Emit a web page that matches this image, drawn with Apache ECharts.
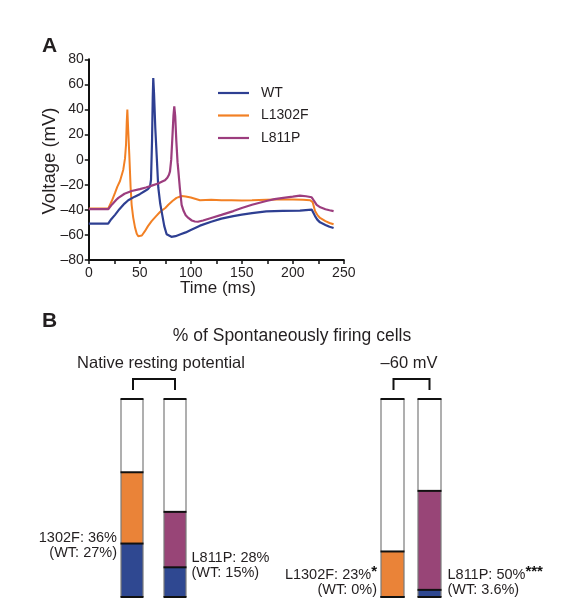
<!DOCTYPE html>
<html>
<head>
<meta charset="utf-8">
<script src="https://cdn.jsdelivr.net/npm/echarts@6/dist/echarts.min.js"></script>
<style>
html,body{margin:0;padding:0;background:#fff;}
#c{width:573px;height:616px;}
</style>
</head>
<body>
<div id="c"></div>
<script>
// ---------- Panel A data: [time (ms), voltage (mV)] ----------
const traceNames = ['WT', 'L1302F', 'L811P'];
const wtTrace = [
  [0,-51],[19,-51],[20,-50],[22,-47.5],[25.7,-44],[30,-39.5],[35,-35],[38.7,-32.4],[45,-29.5],[50,-27.5],
  [55,-25],[58,-23.5],[60,-21.5],[61,-16],[62,15],[62.7,50],[63.2,65],[64,52],[65.2,25],[66.5,4],
  [68.1,-22],[70,-35],[72,-44],[74,-53],[76.3,-59.5],[78,-61],[81,-61.5],[85,-61],[90,-59.5],[95,-58],
  [100,-56],[109,-52.6],[120,-49.5],[130,-47],[141.7,-45],[150,-43.8],[160,-42.6],[174,-41.2],[190,-40.8],
  [207,-40.6],[218.5,-39.8],[220,-41],[221.8,-45],[224,-47.8],[226.7,-50],[232,-52],[236,-53.5],[240,-54.5]
];
const l1302fTrace = [
  [0,-39],[19,-39],[20,-38],[22.5,-33],[25.7,-26.5],[28,-21.5],[30.6,-17],[33.8,-8],[35.5,1],[36.5,12],
  [37.2,30],[37.8,40],[38.6,24],[39.7,4],[41,-22],[42,-36],[43.5,-46],[45.3,-54],[47,-59],[48.5,-61],
  [50,-61.6],[52,-60.5],[55,-57],[58,-53],[61.6,-49],[66,-45],[70,-41.5],[75,-38.5],[78,-36],[82,-33],
  [86,-30.5],[91,-29],[95,-29.3],[100,-30.2],[109,-32.4],[120,-32],[130,-32.3],[140,-32.3],[150,-32.6],
  [160,-32.4],[174,-31.9],[185,-31.8],[200,-31.7],[210,-32],[217,-32.3],[219.5,-34],[221.8,-41],
  [224,-44],[226.7,-46.5],[232,-49],[236,-50.5],[240,-51.5]
];
const l811pTrace = [
  [0,-39.5],[19,-39.5],[20,-39],[23,-35.5],[27,-32],[29,-30.5],[35,-27.2],[42,-25],[50,-23.5],[56,-22.2],
  [61.7,-20.7],[68,-19],[72,-17.5],[74.7,-16.5],[77,-14.5],[78.6,-12],[79.6,-9.3],[80.8,0],[81.9,17],
  [83,35],[83.8,42.4],[84.7,35],[85.8,15],[87,-2],[87.8,-9],[89.3,-23],[91,-36],[93,-41],[95,-44.3],
  [97.6,-46.5],[101,-48.5],[104,-49.3],[107,-49.5],[112,-48.5],[120,-46.5],[130,-44],[141.7,-41],
  [150,-38.5],[160,-36],[174,-33],[182,-31.5],[190.7,-30.5],[200,-29.5],[207,-28.7],[213,-29.2],
  [218.5,-30],[220.5,-32.5],[223.4,-36],[227,-38],[232,-39.5],[236,-40.3],[240,-41]
];
const xTicks = [0, 50, 100, 150, 200, 250];
const yTicks = [-80, -60, -40, -20, 0, 20, 40, 60, 80];

// ---------- Panel B data (% of spontaneously firing cells) ----------
const panelBTitle = '% of Spontaneously firing cells';
const groupNames = ['Native resting potential', '\u201360 mV'];
const mutantNames = ['L1302F', 'L811P'];
const nativeMutPct = [36, 28];
const nativeWtPct = [27, 15];
const clampMutPct = [23, 50];
const clampWtPct = [0, 3.6];
const clampStars = ['*', '***'];
const nativeLabelNames = ['1302F', 'L811P'];
const clampLabelNames = ['L1302F', 'L811P'];

// ---------- styles ----------
const FONT = '"Liberation Sans", Arial, Helvetica, sans-serif';
const lineColors = ['#2E3F92', '#F28024', '#9C3D7E'];
const barBlue = '#2F4891';
const barMut = ['#EA8338', '#984577'];

const chart = echarts.init(document.getElementById('c'), null, {renderer: 'canvas'});

const gridA = {left: 88.8, top: 59.3, width: 255, height: 200.7};
const gridB1 = {left: 110.5, top: 399, width: 86, height: 198};
const gridB2 = {left: 374, top: 399, width: 74, height: 198};

function barRender(widthPx) {
  return function (params, api) {
    const cat = api.value(0), wt = api.value(1), mut = api.value(2);
    const ci = params.dataIndex;
    const p0 = api.coord([cat, 0]);
    const pW = api.coord([cat, wt]);
    const pM = api.coord([cat, wt + mut]);
    const pT = api.coord([cat, 100]);
    const x0 = Math.round(p0[0] - widthPx / 2);
    const x1 = x0 + widthPx;
    const children = [];
    children.push({type: 'rect', shape: {x: x0, y: pT[1], width: widthPx, height: p0[1] - pT[1]}, style: {fill: '#fff'}});
    if (mut > 0) children.push({type: 'rect', shape: {x: x0, y: pM[1], width: widthPx, height: pW[1] - pM[1]}, style: {fill: barMut[ci]}});
    if (wt > 0) children.push({type: 'rect', shape: {x: x0, y: pW[1], width: widthPx, height: p0[1] - pW[1]}, style: {fill: barBlue}});
    const side = {stroke: '#7a7a7a', lineWidth: 1.2};
    children.push({type: 'line', shape: {x1: x0, y1: pT[1], x2: x0, y2: p0[1]}, style: side});
    children.push({type: 'line', shape: {x1: x1, y1: pT[1], x2: x1, y2: p0[1]}, style: side});
    const hl = {stroke: '#111', lineWidth: 2};
    [pT[1], pM[1], pW[1], p0[1]].forEach(function (yy) {
      children.push({type: 'line', shape: {x1: x0 - 0.5, y1: yy, x2: x1 + 0.5, y2: yy}, style: hl});
    });
    return {type: 'group', children: children};
  };
}

const axisTxt = {color: '#231f20', fontFamily: FONT, fontSize: 14};
const dash = v => String(v).replace('-', '\u2013');

const option = {
  animation: false,
  backgroundColor: '#fff',
  grid: [
    Object.assign({containLabel: false}, gridA),
    Object.assign({containLabel: false}, gridB1),
    Object.assign({containLabel: false}, gridB2)
  ],
  xAxis: [
    {
      type: 'value', gridIndex: 0, min: 0, max: 250, interval: 25,
      axisLine: {onZero: false, lineStyle: {color: '#111', width: 2}},
      axisTick: {show: true, length: 4, lineStyle: {color: '#111', width: 1.5}},
      splitLine: {show: false},
      axisLabel: Object.assign({margin: 6, formatter: v => (xTicks.indexOf(v) >= 0 ? String(v) : '')}, axisTxt)
    },
    {type: 'category', gridIndex: 1, data: mutantNames, show: false},
    {type: 'category', gridIndex: 2, data: mutantNames, show: false}
  ],
  yAxis: [
    {
      type: 'value', gridIndex: 0, min: -80, max: 80, interval: 20,
      axisLine: {show: true, onZero: false, lineStyle: {color: '#111', width: 2}},
      axisTick: {show: true, length: 4, lineStyle: {color: '#111', width: 1.5}},
      splitLine: {show: false},
      axisLabel: Object.assign({margin: 5, formatter: v => (yTicks.indexOf(v) >= 0 ? dash(v) : '')}, axisTxt)
    },
    {type: 'value', gridIndex: 1, min: 0, max: 100, show: false},
    {type: 'value', gridIndex: 2, min: 0, max: 100, show: false}
  ],
  legend: {
    orient: 'vertical', left: 218, top: 86, padding: 0, itemWidth: 31, itemHeight: 2.2, itemGap: 8.5,
    icon: 'rect',
    data: traceNames,
    textStyle: {color: '#231f20', fontFamily: FONT, fontSize: 14, lineHeight: 14, padding: [0, 0, 0, 7]}
  },
  series: [
    {name: traceNames[0], type: 'line', xAxisIndex: 0, yAxisIndex: 0, data: wtTrace, symbol: 'none', smooth: false,
      lineStyle: {color: lineColors[0], width: 2.2}, itemStyle: {color: lineColors[0]}, z: 3},
    {name: traceNames[1], type: 'line', xAxisIndex: 0, yAxisIndex: 0, data: l1302fTrace, symbol: 'none',
      lineStyle: {color: lineColors[1], width: 2}, itemStyle: {color: lineColors[1]}, z: 2},
    {name: traceNames[2], type: 'line', xAxisIndex: 0, yAxisIndex: 0, data: l811pTrace, symbol: 'none',
      lineStyle: {color: lineColors[2], width: 2.2}, itemStyle: {color: lineColors[2]}, z: 4},
    {type: 'custom', xAxisIndex: 1, yAxisIndex: 1, renderItem: barRender(22),
      data: mutantNames.map((m, i) => [i, nativeWtPct[i], nativeMutPct[i]])},
    {type: 'custom', xAxisIndex: 2, yAxisIndex: 2, renderItem: barRender(23),
      data: mutantNames.map((m, i) => [i, clampWtPct[i], clampMutPct[i]])}
  ]
};
chart.setOption(option);

// ---------- annotations computed from the axes ----------
const txt = {fill: '#231f20', fontFamily: FONT};
const g = [];
g.push({type: 'text', left: 42, top: 36, style: Object.assign({text: 'A', fontSize: 21, fontWeight: 'bold'}, txt)});
g.push({type: 'text', left: 42, top: 311, style: Object.assign({text: 'B', fontSize: 21, fontWeight: 'bold'}, txt)});
g.push({type: 'text', x: 50, y: 161, rotation: Math.PI / 2,
  style: Object.assign({text: 'Voltage (mV)', fontSize: 18.5, align: 'center', verticalAlign: 'middle'}, txt)});
g.push({type: 'text', x: 218, y: 288,
  style: Object.assign({text: 'Time (ms)', fontSize: 17, align: 'center', verticalAlign: 'middle'}, txt)});
g.push({type: 'text', x: 292, y: 336,
  style: Object.assign({text: panelBTitle, fontSize: 17.5, align: 'center', verticalAlign: 'middle'}, txt)});

function px(axisIdx, cat, val) {
  return chart.convertToPixel({xAxisIndex: axisIdx, yAxisIndex: axisIdx}, [cat, val]);
}
[[1, 161], [2, 409]].forEach(function (pair, gi) {
  const ax = pair[0];
  const a = px(ax, 0, 100), b = px(ax, 1, 100);
  const topY = a[1] - 20, legY = a[1] - 9;
  g.push({type: 'polyline', shape: {points: [[a[0] + 1, legY], [a[0] + 1, topY], [b[0], topY], [b[0], legY]]},
    style: {stroke: '#111', lineWidth: 2, fill: null}});
  g.push({type: 'text', x: pair[1], y: 363,
    style: Object.assign({text: groupNames[gi], fontSize: 16.5, align: 'center', verticalAlign: 'middle'}, txt)});
});

// bar labels
(function () {
  const p0 = px(1, 0, 0);
  g.push({type: 'text', x: p0[0] - 15, y: 545.5,
    style: Object.assign({text: nativeLabelNames[0] + ': ' + nativeMutPct[0] + '%\n(WT: ' + nativeWtPct[0] + '%)',
      fontSize: 14.5, lineHeight: 15, align: 'right', verticalAlign: 'middle'}, txt)});
  const p1 = px(1, 1, 0);
  g.push({type: 'text', x: p1[0] + 16.5, y: 565.5,
    style: Object.assign({text: nativeLabelNames[1] + ': ' + nativeMutPct[1] + '%\n(WT: ' + nativeWtPct[1] + '%)',
      fontSize: 14.5, lineHeight: 15, align: 'left', verticalAlign: 'middle'}, txt)});
  const r = {
    a: {fontFamily: FONT, fontSize: 14.5, fill: '#231f20', lineHeight: 15},
    s: {fontFamily: FONT, fontSize: 15, fontWeight: 'bold', fill: '#111', lineHeight: 15, padding: [0, 0, 6, 0]}
  };
  const q0 = px(2, 0, 0);
  g.push({type: 'text', x: q0[0] - 15.5, y: 582.5,
    style: {text: '{a|' + clampLabelNames[0] + ': ' + clampMutPct[0] + '%}{s|' + clampStars[0] + '}\n{a|(WT: ' + clampWtPct[0] + '%)}',
      rich: r, align: 'right', verticalAlign: 'middle'}});
  const q1 = px(2, 1, 0);
  g.push({type: 'text', x: q1[0] + 18, y: 582.5,
    style: {text: '{a|' + clampLabelNames[1] + ': ' + clampMutPct[1] + '%}{s|' + clampStars[1] + '}\n{a|(WT: ' + clampWtPct[1] + '%)}',
      rich: r, align: 'left', verticalAlign: 'middle'}});
})();

chart.setOption({graphic: g});
</script>
</body>
</html>
